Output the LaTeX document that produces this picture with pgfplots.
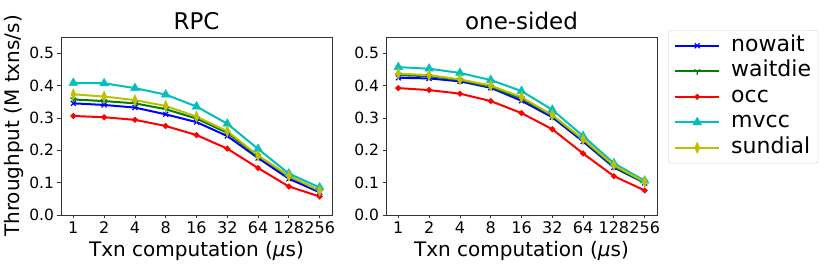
\documentclass[border=0pt]{standalone}
\usepackage{pgfplots}
\pgfplotsset{compat=1.18}
\usepackage{fontspec}
\setmainfont{DejaVu Sans}
\definecolor{mb}{rgb}{0,0,1}
\definecolor{mg}{rgb}{0,0.5,0}
\definecolor{mr}{rgb}{1,0,0}
\definecolor{mc}{rgb}{0,0.75,0.75}
\definecolor{my}{rgb}{0.75,0.75,0}
\pgfdeclareplotmark{tri}{%
  \pgfpathmoveto{\pgfpointorigin}\pgfpathlineto{\pgfpoint{0pt}{-\pgfplotmarksize}}%
  \pgfpathmoveto{\pgfpointorigin}\pgfpathlineto{\pgfpoint{0.866\pgfplotmarksize}{0.5\pgfplotmarksize}}%
  \pgfpathmoveto{\pgfpointorigin}\pgfpathlineto{\pgfpoint{-0.866\pgfplotmarksize}{0.5\pgfplotmarksize}}%
  \pgfusepathqstroke}
\pgfplotsset{
  base/.style={
    scale only axis, width=271pt, height=178pt,
    xmin=-0.4, xmax=8.4, ymin=0, ymax=0.55,
    xtick={0,...,8}, xticklabels={1,2,4,8,16,32,64,128,256},
    ytick={0,0.1,...,0.5},
    xticklabel style={font=\fontsize{16}{18}\selectfont},
    yticklabel style={font=\fontsize{15.5}{18}\selectfont, /pgf/number format/.cd, fixed, fixed zerofill, precision=1, assume math mode=true},
    tick align=outside, xtick pos=bottom, ytick pos=left,
    major tick length=3.5pt,
    axis line style={black!80, line width=0.8pt},
    tick style={black!80, line width=0.8pt},
    xlabel={Txn computation ({\itshape μ}s)},
    label style={font=\fontsize{20}{23}\selectfont},
    title style={font=\fontsize{23}{26}\selectfont, yshift=-2pt},
    every axis plot/.append style={line width=2pt},
  },
  snw/.style={color=mb, mark=x, mark size=3.5pt, mark options={line width=1.2pt}},
  swd/.style={color=mg, mark=tri, mark size=3.5pt, mark options={line width=1.2pt}},
  socc/.style={color=mr, mark=*, mark size=1.8pt},
  smv/.style={color=mc, mark=triangle*, mark size=5pt, mark options={line width=0.5pt}},
  ssd/.style={color=my, mark=diamond*, mark size=5.5pt, mark options={xscale=0.6, line width=0.5pt}},
}
\begin{document}
\begin{tikzpicture}
\useasboundingbox (0,0) rectangle (830pt,270pt);
\begin{axis}[base, at={(61pt,55pt)}, anchor=south west, title={RPC},
  ylabel={Throughput (M txns/s)}, ylabel style={yshift=-1pt}]
\addplot[snw] coordinates {(0,0.345)(1,0.340)(2,0.332)(3,0.311)(4,0.287)(5,0.244)(6,0.176)(7,0.112)(8,0.070)};
\addplot[swd] coordinates {(0,0.357)(1,0.352)(2,0.345)(3,0.327)(4,0.298)(5,0.254)(6,0.182)(7,0.120)(8,0.075)};
\addplot[socc] coordinates {(0,0.306)(1,0.302)(2,0.294)(3,0.275)(4,0.247)(5,0.205)(6,0.145)(7,0.088)(8,0.057)};
\addplot[smv] coordinates {(0,0.408)(1,0.407)(2,0.392)(3,0.372)(4,0.335)(5,0.282)(6,0.204)(7,0.128)(8,0.085)};
\addplot[ssd] coordinates {(0,0.373)(1,0.366)(2,0.355)(3,0.337)(4,0.304)(5,0.259)(6,0.184)(7,0.121)(8,0.075)};
\end{axis}
\begin{axis}[base, at={(386pt,55pt)}, anchor=south west, title={one-sided},
  legend style={at={(1.0406,1.039)}, anchor=north west, draw=black!20, rounded corners=3pt,
    font=\fontsize{22}{26}\selectfont, row sep=4.5pt, inner xsep=6pt, inner ysep=5pt,
    nodes={inner sep=1pt, text height=15pt, text depth=4pt}},
  legend cell align=left,
  legend image code/.code={\draw[mark repeat=2, mark phase=2] plot coordinates {(0pt,0pt)(22pt,0pt)(44pt,0pt)};},
  /tikz/every even column/.append style={column sep=0pt},
  /tikz/every odd column/.append style={column sep=10pt}]
\addplot[snw] coordinates {(0,0.424)(1,0.422)(2,0.413)(3,0.393)(4,0.353)(5,0.302)(6,0.227)(7,0.147)(8,0.099)};
\addplot[swd] coordinates {(0,0.432)(1,0.429)(2,0.417)(3,0.396)(4,0.360)(5,0.307)(6,0.232)(7,0.150)(8,0.100)};
\addplot[socc] coordinates {(0,0.392)(1,0.386)(2,0.375)(3,0.352)(4,0.315)(5,0.265)(6,0.190)(7,0.120)(8,0.076)};
\addplot[smv] coordinates {(0,0.457)(1,0.452)(2,0.439)(3,0.417)(4,0.383)(5,0.325)(6,0.244)(7,0.160)(8,0.106)};
\addplot[ssd] coordinates {(0,0.437)(1,0.432)(2,0.419)(3,0.400)(4,0.364)(5,0.309)(6,0.234)(7,0.154)(8,0.102)};
\legend{nowait,waitdie,occ,mvcc,sundial}
\end{axis}
\end{tikzpicture}
\end{document}
